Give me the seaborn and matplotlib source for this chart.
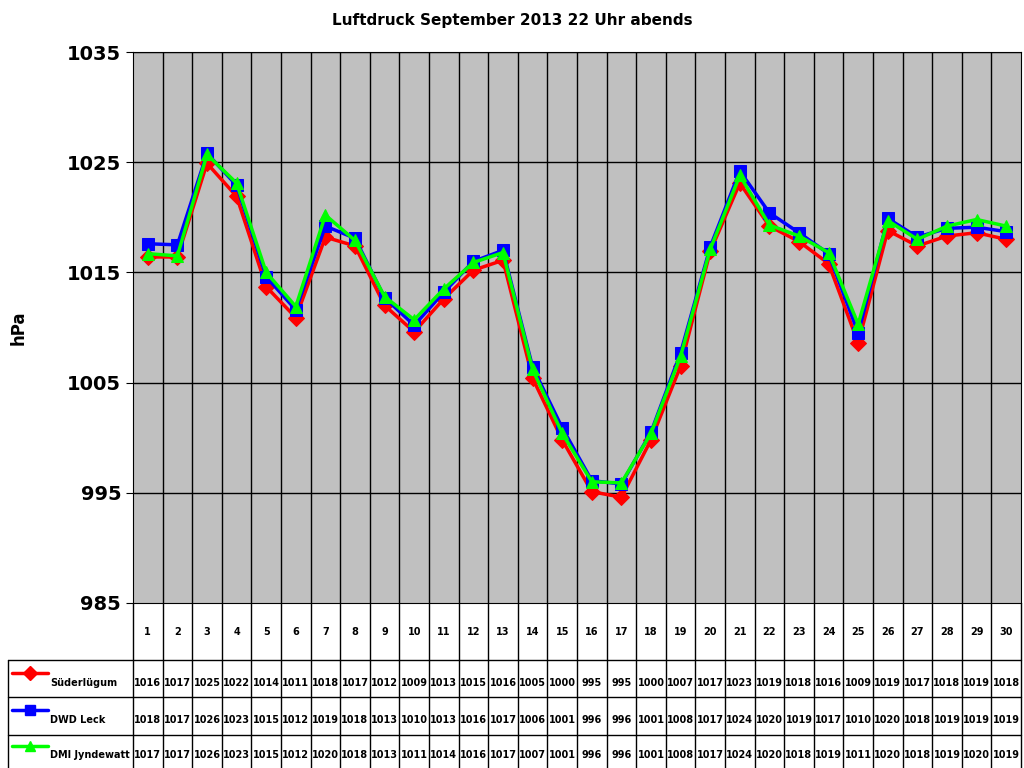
import numpy as np
import pandas as pd
import seaborn as sns
import matplotlib.pyplot as plt

days = list(range(1, 31))
suederluegum = [1016.4, 1016.4, 1024.9, 1021.9, 1013.7, 1010.9, 1018.2, 1017.4, 1012.0, 1009.6,
                1012.6, 1015.2, 1016.1, 1005.4, 999.8, 995.1, 994.6, 999.8, 1006.5, 1016.9,
                1023.1, 1019.2, 1017.8, 1015.8, 1008.6, 1018.8, 1017.4, 1018.3, 1018.6, 1018.0]
dwd_leck = [1017.6, 1017.5, 1025.8, 1022.9, 1014.6, 1011.6, 1019.2, 1018.1, 1012.7, 1010.2,
            1013.2, 1016.0, 1017.0, 1006.4, 1000.9, 996.1, 995.8, 1000.5, 1007.7, 1017.3,
            1024.2, 1020.4, 1018.6, 1016.7, 1009.5, 1019.9, 1018.2, 1019.0, 1019.1, 1018.7]
dmi_jyndewatt = [1016.7, 1016.5, 1025.7, 1023.1, 1015.0, 1011.9, 1020.2, 1017.9, 1012.8, 1010.7,
                 1013.5, 1015.9, 1016.8, 1006.2, 1000.4, 996.0, 995.9, 1000.4, 1007.4, 1017.1,
                 1023.8, 1019.3, 1018.3, 1016.8, 1010.3, 1019.7, 1018.0, 1019.2, 1019.8, 1019.2]
# values as printed in the data table
tab_sued = [1016, 1017, 1025, 1022, 1014, 1011, 1018, 1017, 1012, 1009, 1013, 1015, 1016, 1005, 1000,
            995, 995, 1000, 1007, 1017, 1023, 1019, 1018, 1016, 1009, 1019, 1017, 1018, 1019, 1018]
tab_dwd = [1018, 1017, 1026, 1023, 1015, 1012, 1019, 1018, 1013, 1010, 1013, 1016, 1017, 1006, 1001,
           996, 996, 1001, 1008, 1017, 1024, 1020, 1019, 1017, 1010, 1020, 1018, 1019, 1019, 1019]
tab_dmi = [1017, 1017, 1026, 1023, 1015, 1012, 1020, 1018, 1013, 1011, 1014, 1016, 1017, 1007, 1001,
           996, 996, 1001, 1008, 1017, 1024, 1020, 1018, 1019, 1011, 1020, 1018, 1019, 1020, 1019]
series = ["Süderlügum", "DWD Leck", "DMI Jyndewatt"]
colors = ["#FF0000", "#0000FF", "#00FF00"]
markers = ["D", "s", "^"]

sns.set_style("white")
plt.rcParams["text.color"] = "black"
plt.rcParams["axes.labelcolor"] = "black"
plt.rcParams["ytick.color"] = "black"
W, H = 1024, 768
fig = plt.figure(figsize=(W / 100, H / 100), dpi=100)
L, R, T, B = 133, 1021, 52, 603
ax = fig.add_axes([L / W, 1 - B / H, (R - L) / W, (B - T) / H])
ax.set_facecolor("#C0C0C0")

df = pd.DataFrame({"day": days * 3,
                   "hPa": suederluegum + dwd_leck + dmi_jyndewatt,
                   "station": sum([[s] * 30 for s in series], [])})
for s, c, m in zip(series, colors, markers):
    sns.lineplot(data=df[df.station == s], x="day", y="hPa", color=c, marker=m,
                 markersize=8, markeredgecolor=c, linewidth=2.5, ax=ax, legend=False)

ax.set_xlim(0.5, 30.5)
ax.set_ylim(985, 1035)
ax.set_yticks(range(985, 1036, 10))
ax.set_yticklabels([str(v) for v in range(985, 1036, 10)], fontsize=14, fontweight="bold")
ax.set_xticks([])
ax.set_xlabel("")
ax.set_ylabel("hPa", fontsize=12, fontweight="bold", labelpad=28)
for v in range(995, 1036, 10):
    ax.axhline(v, color="black", lw=1, zorder=0.5)
for d in np.arange(1.5, 30, 1):
    ax.axvline(d, color="black", lw=1, zorder=0.5)
for sp in ax.spines.values():
    sp.set_color("black")
ax.tick_params(axis="y", length=5, left=True)
fig.text(0.5, 1 - 20 / H, "Luftdruck September 2013 22 Uhr abends", ha="center", va="center",
         fontsize=11, fontweight="bold")

# data table in pixel coordinates
tx = fig.add_axes([0, 0, 1, 1], facecolor="none")
tx.set_xlim(0, W)
tx.set_ylim(H, 0)
tx.axis("off")
cw = (R - L) / 30
rows = [603, 660, 697, 735, 768]
for i in range(31):
    tx.plot([L + i * cw] * 2, [B, H], color="black", lw=1)
for y in rows[1:4]:
    tx.plot([8, R], [y, y], color="black", lw=1)
tx.plot([8, 8], [660, H], color="black", lw=1)
for i, d in enumerate(days):
    tx.text(L + (i + 0.5) * cw, 632, str(d), ha="center", va="center", fontsize=7, fontweight="bold")
for r, (name, c, m, vals) in enumerate(zip(series, colors, markers, [tab_sued, tab_dwd, tab_dmi])):
    ymid = (rows[r + 1] + rows[r + 2]) / 2
    tx.plot([12, 48], [ymid - 6, ymid - 6], color=c, lw=2.5)
    tx.plot([30], [ymid - 6], marker=m, color=c, markersize=7)
    tx.text(50, ymid + 4, name, ha="left", va="center", fontsize=7, fontweight="bold")
    for i, v in enumerate(vals):
        tx.text(L + (i + 0.5) * cw, ymid + 4, str(v), ha="center", va="center", fontsize=7, fontweight="bold")

fig.savefig("out.png", dpi=100)
